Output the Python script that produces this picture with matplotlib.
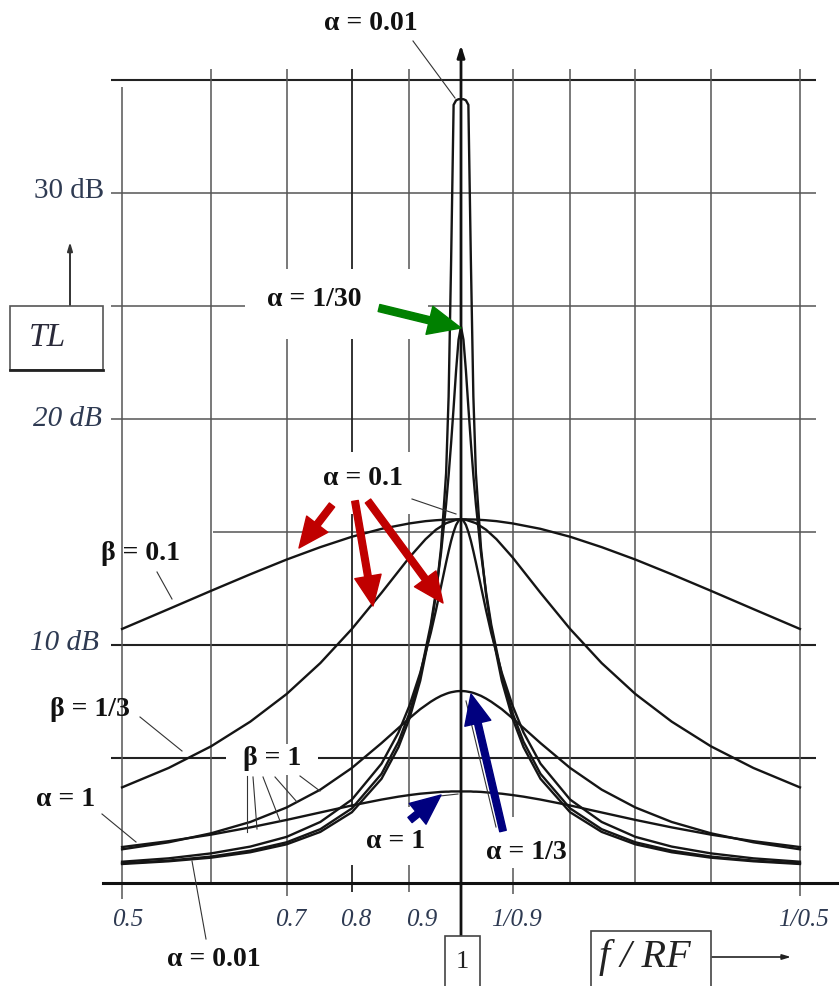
import numpy as np
import matplotlib
matplotlib.use('Agg')
import matplotlib.pyplot as plt
from matplotlib.patches import Rectangle

plt.rcParams['font.family'] = ['Liberation Serif', 'DejaVu Serif']

W, H = 839, 987

# f/RF sample points (log axis, symmetric about 1)
freq = [0.5, 0.55, 0.6, 0.65, 0.7, 0.75, 0.8, 0.85, 0.88, 0.9, 0.92, 0.94, 0.95, 0.96, 0.97,
        0.975, 0.98, 0.985, 0.99, 0.995, 1.0, 1.005, 1.0101, 1.0152, 1.0204, 1.0256, 1.0309,
        1.0417, 1.0526, 1.0638, 1.087, 1.1111, 1.1364, 1.1765, 1.25, 1.3333, 1.4286, 1.5385,
        1.6667, 1.8182, 2.0]
freq_wide = [0.5, 0.55, 0.6, 0.65, 0.7, 0.75, 0.8, 0.85, 0.9, 0.93, 0.95, 0.97, 0.99, 1.0,
             1.0101, 1.0309, 1.0526, 1.0753, 1.1111, 1.1765, 1.25, 1.3333, 1.4286, 1.5385,
             1.6667, 1.8182, 2.0]

# TL in dB, beta = 1 family
tl_a001 = [0.31, 0.43, 0.59, 0.83, 1.18, 1.73, 2.60, 4.08, 5.48, 6.75, 8.42, 10.72, 12.23, 14.30,
           17.60, 21.00, 27.00, 33.90, 34.10, 34.15, 34.15, 34.15, 34.10, 33.90, 27.00, 21.00,
           17.60, 14.30, 12.23, 10.72, 8.42, 6.75, 5.48, 4.08, 2.60, 1.73, 1.18, 0.83, 0.59,
           0.43, 0.31]
tl_a130 = [0.34, 0.46, 0.64, 0.90, 1.27, 1.85, 2.77, 4.30, 5.72, 6.99, 8.66, 10.90, 12.34, 14.08,
           16.23, 17.51, 18.94, 20.51, 22.14, 23.51, 24.08, 23.51, 22.14, 20.51, 18.94, 17.51,
           16.23, 14.08, 12.34, 10.90, 8.66, 6.99, 5.72, 4.30, 2.77, 1.85, 1.27, 0.90, 0.64,
           0.46, 0.34]
tl_a01 = [0.41, 0.56, 0.78, 1.08, 1.51, 2.17, 3.16, 4.75, 6.13, 7.32, 8.77, 10.53, 11.53, 12.59,
          13.65, 14.15, 14.61, 15.00, 15.31, 15.50, 15.56, 15.50, 15.31, 15.00, 14.61, 14.15,
          13.65, 12.59, 11.53, 10.53, 8.77, 7.32, 6.13, 4.75, 3.16, 2.17, 1.51, 1.08, 0.78,
          0.56, 0.41]
tl_a13 = [0.96, 1.27, 1.67, 2.17, 2.81, 3.60, 4.56, 5.66, 6.33, 6.76, 7.16, 7.49, 7.63, 7.75,
          7.84, 7.88, 7.91, 7.93, 7.95, 7.96, 7.96, 7.96, 7.95, 7.93, 7.91, 7.88, 7.84, 7.75,
          7.63, 7.49, 7.16, 6.76, 6.33, 5.66, 4.56, 3.60, 2.81, 2.17, 1.67, 1.27, 0.96]
tl_a1 = [1.06, 1.32, 1.61, 1.93, 2.26, 2.59, 2.90, 3.16, 3.29, 3.36, 3.42, 3.46, 3.48, 3.50,
         3.51, 3.51, 3.52, 3.52, 3.52, 3.52, 3.52, 3.52, 3.52, 3.52, 3.52, 3.51, 3.51, 3.50,
         3.48, 3.46, 3.42, 3.36, 3.29, 3.16, 2.90, 2.59, 2.26, 1.93, 1.61, 1.32, 1.06]

# alpha = 0.1 with the broad beta values
tl_b01 = [10.71, 11.59, 12.40, 13.13, 13.78, 14.33, 14.79, 15.14, 15.38, 15.48, 15.52, 15.55,
          15.56, 15.56, 15.56, 15.55, 15.52, 15.48, 15.38, 15.14, 14.79, 14.33, 13.78, 13.13,
          12.40, 11.59, 10.71]
tl_b13 = [3.70, 4.56, 5.52, 6.61, 7.83, 9.20, 10.71, 12.31, 13.88, 14.68, 15.10, 15.39, 15.54,
          15.56, 15.54, 15.39, 15.10, 14.68, 13.88, 12.31, 10.71, 9.20, 7.83, 6.61, 5.52, 4.56,
          3.70]

grid_db = [35, 30, 25, 20, 15, 10, 5]
grid_f = [0.5, 0.6, 0.7, 0.8, 0.9, 1.1111, 1.25, 1.4286, 1.6667, 2.0]
xtick_f = [0.5, 0.7, 0.8, 0.9, 1.1111, 2.0]
xtick_txt = ['0.5', '0.7', '0.8', '0.9', '1/0.9', '1/0.5']


def fx(px):
    # pixel column -> f/RF
    return np.exp((px - 461) / 489.0)


def fy(py):
    # pixel row -> dB
    return (872 - py) / 22.6


def P(x, y):
    return (fx(x), fy(y))


fig = plt.figure(figsize=(W / 100, H / 100), dpi=100)
ax = fig.add_axes([0, 0, 1, 1])
ax.set_xscale('log')
ax.set_xlim(fx(0), fx(W))
ax.set_ylim(fy(H), fy(0))
ax.axis('off')

# grid
for v in grid_db:
    x0 = fx(213) if v == 15 else fx(111)
    dark = v in (10, 5, 35)
    ax.plot([x0, fx(816)], [v, v], color='#222222' if dark else '#555555',
            lw=1.5 if dark else 1.1, zorder=1, solid_capstyle='butt')

low_end = {0.5: 900, 0.7: 897, 0.8: 893, 0.9: 893, 1.1111: 895, 2.0: 897}
for f in grid_f:
    top = 88 if f == 0.5 else 70
    ax.plot([f, f], [fy(low_end.get(f, 884)), fy(top)], color='#222222' if f == 0.8 else '#555555',
            lw=1.3 if f == 0.8 else 1.1, zorder=1, solid_capstyle='butt')


def blank(x0, y0, x1, y1):
    ax.add_patch(Rectangle((fx(x0), fy(y1)), fx(x1) - fx(x0), fy(y0) - fy(y1),
                           fc='white', ec='none', zorder=1.5))


blank(245, 270, 428, 340)
blank(318, 453, 422, 515)
blank(226, 745, 318, 776)
blank(340, 808, 440, 866)
blank(476, 818, 560, 869)

# axes lines
ax.plot([fx(103), fx(W)], [fy(884), fy(884)], color='#111111', lw=2.2, zorder=4)
ax.annotate('', xy=P(461, 46), xytext=P(461, 937),
            arrowprops=dict(arrowstyle='-|>,head_length=0.7,head_width=0.22', color='#111111',
                            lw=2, shrinkA=0, shrinkB=0), zorder=4)

# curves
for f, tl in [(freq, tl_a001), (freq, tl_a130), (freq, tl_a01), (freq, tl_a13), (freq, tl_a1),
              (freq_wide, tl_b01), (freq_wide, tl_b13)]:
    ax.plot(f, tl, color='#151515', lw=1.7, zorder=3, solid_joinstyle='round')

# axis labels
tick_col = '#2e3a52'
ax.text(*P(104, 191), '30 dB', fontsize=21, color=tick_col, ha='right', va='center')
ax.text(*P(102, 419), '20 dB', fontsize=21, style='italic', color=tick_col, ha='right', va='center')
ax.text(*P(99, 643), '10 dB', fontsize=21, style='italic', color=tick_col, ha='right', va='center')
for f, s in zip(xtick_f, xtick_txt):
    xs = 461 + 489 * np.log(f)
    off = {0.5: 6, 0.9: 12, 2.0: 4}.get(f, 4)
    ax.text(*P(xs + off, 920), s, fontsize=18, style='italic', color=tick_col, ha='center',
            va='center')

# TL box
ax.add_patch(Rectangle(P(10, 371), fx(103) - fx(10), fy(307) - fy(371), fc='white',
                       ec='#555555', lw=1.2, zorder=5))
ax.plot([fx(10), fx(103)], [fy(371), fy(371)], color='#222222', lw=2, zorder=5)
ax.text(*P(47, 338), 'TL', fontsize=24, style='italic', color='#2a2a3a', ha='center',
        va='center', zorder=6)
ax.annotate('', xy=P(70, 243), xytext=P(70, 307),
            arrowprops=dict(arrowstyle='-|>,head_length=0.5,head_width=0.15', color='#333333',
                            lw=1.4, shrinkA=0, shrinkB=0))

# 1 box and f/RF box
ax.add_patch(Rectangle(P(445, 992), fx(480) - fx(445), fy(937) - fy(992), fc='white',
                       ec='#444444', lw=1.2, zorder=5))
ax.text(*P(462, 962), '1', fontsize=19, color='#222222', ha='center', va='center', zorder=6)
ax.add_patch(Rectangle(P(591, 992), fx(711) - fx(591), fy(932) - fy(992), fc='white',
                       ec='#444444', lw=1.2, zorder=5))
ax.text(*P(645, 958), 'f / RF', fontsize=29, style='italic', color='#222222', ha='center',
        va='center', zorder=6)
ax.annotate('', xy=P(791, 958), xytext=P(712, 958),
            arrowprops=dict(arrowstyle='-|>,head_length=0.5,head_width=0.15', color='#222222',
                            lw=1.2, shrinkA=0, shrinkB=0))

# curve labels
lab = dict(fontsize=20, fontweight='bold', color='#111111', ha='center', va='center', zorder=6)
ax.text(*P(371, 24), 'α = 0.01', **lab)
ax.text(*P(314, 300), 'α = 1/30', **lab)
ax.text(*P(363, 479), 'α = 0.1', **lab)
ax.text(*P(141, 553), 'β = 0.1', **lab)
ax.text(*P(90, 710), 'β = 1/3', **lab)
ax.text(*P(272, 759), 'β = 1', **lab)
ax.text(*P(66, 800), 'α = 1', **lab)
ax.text(*P(396, 842), 'α = 1', **lab)
ax.text(*P(526, 853), 'α = 1/3', **lab)
ax.text(*P(214, 960), 'α = 0.01', **lab)

# thin leader lines
leaders = [((413, 42), (455, 99)), ((412, 500), (456, 515)), ((157, 573), (172, 600)),
           ((140, 718), (182, 752)), ((102, 815), (136, 843)), ((206, 940), (192, 862)),
           ((247, 777), (247, 833)), ((253, 778), (257, 830)), ((263, 778), (280, 822)),
           ((275, 778), (297, 803)), ((300, 777), (320, 792)), ((440, 797), (458, 795)),
           ((466, 702), (496, 828))]
for a, b in leaders:
    ax.plot([fx(a[0]), fx(b[0])], [fy(a[1]), fy(b[1])], color='#333333', lw=0.8, zorder=5)


def fat_arrow(tail, tip, col, scale=24):
    ax.annotate('', xy=P(*tip), xytext=P(*tail),
                arrowprops=dict(arrowstyle='simple,head_length=0.9,head_width=0.8,tail_width=0.2',
                                fc=col, ec=col, mutation_scale=scale, shrinkA=0, shrinkB=0),
                zorder=7)


fat_arrow((379, 309), (461, 329), '#008000', 26)
fat_arrow((332, 506), (299, 549), '#c00000')
fat_arrow((355, 502), (373, 607), '#c00000')
fat_arrow((368, 502), (443, 604), '#c00000')
fat_arrow((410, 821), (441, 796), '#00007f')
fat_arrow((503, 832), (471, 695), '#00007f')

fig.savefig('out.png', dpi=100)
